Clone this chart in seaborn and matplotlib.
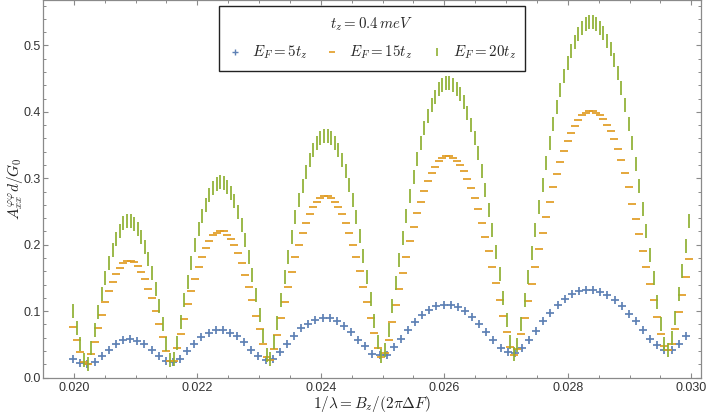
import numpy as np
import pandas as pd
import matplotlib
matplotlib.use('Agg')
import matplotlib.pyplot as plt
from matplotlib.lines import Line2D
import seaborn as sns

# sampling grid (first / last marker position)
x_start = 0.01999
x_end_fine = 0.02997
x_end_coarse = 0.02991

legend_title = r'$t_z = 0.4\,meV$'
labels = [r'$E_F = 5t_z$', r'$E_F = 15t_z$', r'$E_F = 20t_z$']
colors = ['#5E81B5', '#E19C24', '#8FB032']

# E_F = 5 t_z  (blue +)
ef5 = [0.0286, 0.022, 0.0196, 0.0236, 0.033, 0.042, 0.051, 0.056, 0.058, 0.0547,
       0.0497, 0.041, 0.032, 0.0246, 0.023, 0.0286, 0.0396, 0.051, 0.0607, 0.067,
       0.0708, 0.0708, 0.067, 0.0622, 0.0537, 0.042, 0.033, 0.027, 0.0286, 0.038,
       0.050, 0.0622, 0.0738, 0.0808, 0.0873, 0.0899, 0.0889, 0.0848, 0.0783, 0.0688,
       0.0572, 0.0472, 0.0357, 0.0346, 0.0346, 0.0456, 0.0582, 0.0708, 0.0838, 0.0938,
       0.1014, 0.1074, 0.1099, 0.1099, 0.1059, 0.0999, 0.0914, 0.0808, 0.0688, 0.0562,
       0.0447, 0.0387, 0.0372, 0.0447, 0.0562, 0.0698, 0.0848, 0.0974, 0.1089, 0.1185,
       0.126, 0.130, 0.1325, 0.1325, 0.1285, 0.1235, 0.1164, 0.1074, 0.096, 0.0848,
       0.0713, 0.0582, 0.0482, 0.0412, 0.0412, 0.0497, 0.0622]

# E_F = 15 t_z  (orange -)
ef15 = [0.076, 0.057, 0.038, 0.023, 0.021, 0.035, 0.054, 0.075, 0.094, 0.113,
        0.130, 0.144, 0.156, 0.165, 0.172, 0.175, 0.176, 0.174, 0.168, 0.159,
        0.148, 0.134, 0.119, 0.100, 0.081, 0.061, 0.040, 0.025, 0.025, 0.044,
        0.065, 0.088, 0.110, 0.130, 0.149, 0.167, 0.182, 0.195, 0.206, 0.214,
        0.218, 0.221, 0.220, 0.215, 0.209, 0.200, 0.187, 0.172, 0.155, 0.137,
        0.116, 0.093, 0.073, 0.050, 0.031, 0.027, 0.043, 0.064, 0.089, 0.113,
        0.137, 0.159, 0.181, 0.200, 0.217, 0.233, 0.246, 0.257, 0.265, 0.270,
        0.273, 0.273, 0.270, 0.265, 0.257, 0.246, 0.233, 0.218, 0.200, 0.181,
        0.160, 0.137, 0.113, 0.090, 0.067, 0.045, 0.031, 0.037, 0.057, 0.083,
        0.109, 0.134, 0.158, 0.182, 0.206, 0.227, 0.247, 0.265, 0.281, 0.296,
        0.308, 0.317, 0.326, 0.331, 0.333, 0.333, 0.331, 0.326, 0.320, 0.311,
        0.299, 0.286, 0.271, 0.254, 0.233, 0.212, 0.190, 0.167, 0.142, 0.117,
        0.092, 0.068, 0.046, 0.034, 0.043, 0.065, 0.090, 0.115, 0.141, 0.167,
        0.193, 0.218, 0.242, 0.265, 0.287, 0.306, 0.325, 0.341, 0.356, 0.368,
        0.379, 0.388, 0.395, 0.399, 0.401, 0.401, 0.399, 0.395, 0.389, 0.380,
        0.371, 0.359, 0.344, 0.327, 0.308, 0.287, 0.261, 0.239, 0.216, 0.191,
        0.166, 0.141, 0.116, 0.091, 0.066, 0.047, 0.041, 0.051, 0.073, 0.098,
        0.124, 0.151, 0.178]

# E_F = 20 t_z  (green |)
ef20 = [0.100, 0.075, 0.050, 0.026, 0.020, 0.044, 0.071, 0.099, 0.126, 0.150,
        0.172, 0.192, 0.208, 0.221, 0.232, 0.235, 0.235, 0.231, 0.223, 0.212,
        0.197, 0.178, 0.157, 0.133, 0.107, 0.080, 0.051, 0.026, 0.028, 0.052,
        0.084, 0.116, 0.144, 0.172, 0.199, 0.223, 0.243, 0.260, 0.275, 0.285,
        0.291, 0.295, 0.293, 0.287, 0.278, 0.266, 0.249, 0.229, 0.207, 0.182,
        0.154, 0.124, 0.094, 0.062, 0.034, 0.028, 0.053, 0.082, 0.117, 0.151,
        0.182, 0.212, 0.241, 0.267, 0.289, 0.310, 0.328, 0.342, 0.353, 0.360,
        0.364, 0.364, 0.360, 0.353, 0.342, 0.328, 0.311, 0.290, 0.267, 0.241,
        0.213, 0.183, 0.151, 0.118, 0.085, 0.054, 0.032, 0.041, 0.071, 0.107,
        0.143, 0.177, 0.210, 0.243, 0.274, 0.302, 0.329, 0.353, 0.375, 0.394,
        0.410, 0.423, 0.434, 0.441, 0.444, 0.444, 0.441, 0.435, 0.427, 0.415,
        0.399, 0.381, 0.361, 0.338, 0.311, 0.283, 0.253, 0.222, 0.189, 0.156,
        0.119, 0.086, 0.054, 0.035, 0.049, 0.081, 0.116, 0.151, 0.187, 0.222,
        0.257, 0.290, 0.323, 0.353, 0.382, 0.408, 0.433, 0.454, 0.474, 0.491,
        0.505, 0.517, 0.526, 0.532, 0.535, 0.535, 0.532, 0.527, 0.519, 0.507,
        0.494, 0.478, 0.458, 0.436, 0.410, 0.382, 0.353, 0.322, 0.289, 0.254,
        0.220, 0.185, 0.150, 0.114, 0.081, 0.051, 0.041, 0.059, 0.090, 0.126,
        0.161, 0.198, 0.235]

x_coarse = np.linspace(x_start, x_end_coarse, len(ef5))
x_fine = np.linspace(x_start, x_end_fine, len(ef20))

df5 = pd.DataFrame({'x': x_coarse, 'y': ef5})
df15 = pd.DataFrame({'x': x_fine, 'y': ef15})
df20 = pd.DataFrame({'x': x_fine, 'y': ef20})

sns.set_style('ticks')
plt.rcParams['font.family'] = ['Liberation Sans', 'DejaVu Sans']
plt.rcParams['mathtext.fontset'] = 'cm'

fig = plt.figure(figsize=(7.06, 4.15), dpi=100)
ax = fig.add_axes([43 / 706, 37.5 / 415, 658 / 706, 377.5 / 415])

sns.scatterplot(data=df5, x='x', y='y', marker='+', s=30, linewidth=1.25,
                color=colors[0], ax=ax, zorder=3, legend=False)
sns.scatterplot(data=df15, x='x', y='y', marker='_', s=32, linewidth=1.25,
                color=colors[1], ax=ax, zorder=4, legend=False)
sns.scatterplot(data=df20, x='x', y='y', marker='|', s=110, linewidth=1.25,
                color=colors[2], ax=ax, zorder=5, legend=False)

ax.set_xlim(0.019795, 0.030157)
ax.set_ylim(0, 0.5685)
ax.set_xticks([0.020, 0.022, 0.024, 0.026, 0.028, 0.030])
ax.set_xticklabels(['0.020', '0.022', '0.024', '0.026', '0.028', '0.030'])
ax.set_xticks(np.arange(0.0195, 0.0305, 0.0005), minor=True)
ax.set_yticks([0.0, 0.1, 0.2, 0.3, 0.4, 0.5])
ax.set_yticklabels(['0.0', '0.1', '0.2', '0.3', '0.4', '0.5'])
ax.set_yticks(np.arange(0.0, 0.57, 0.02), minor=True)

frame_col = '#8a8a8a'
for sp in ax.spines.values():
    sp.set_visible(True)
    sp.set_color(frame_col)
    sp.set_linewidth(0.9)
ax.tick_params(which='both', direction='in', top=True, right=True,
               color=frame_col, labelcolor='#333333', labelsize=9)
ax.tick_params(which='major', length=3.5, width=0.8)
ax.tick_params(which='minor', length=2.0, width=0.7)
ax.tick_params(axis='y', pad=1.5)
ax.tick_params(axis='x', pad=3.5)

ax.set_xlabel(r'$1/\lambda = B_z/(2\pi\Delta F)$', fontsize=11, color='#222222')
ax.set_ylabel(r'$A^{\varphi\varphi}_{xx}d/G_0$', fontsize=11, color='#222222')
ax.xaxis.set_label_coords(0.5, -0.069)
ax.xaxis.label.set_va('center')
ax.yaxis.set_label_coords(-0.042, 0.5)
ax.yaxis.label.set_va('center')

handles = [
    Line2D([], [], ls='', marker='+', ms=4.0, mew=1.0, color=colors[0]),
    Line2D([], [], ls='', marker='_', ms=4.5, mew=1.2, color=colors[1]),
    Line2D([], [], ls='', marker='|', ms=6.0, mew=1.2, color=colors[2]),
]
leg = ax.legend(handles, labels, title=legend_title, ncol=3, loc='upper center',
                bbox_to_anchor=(0.5, 0.985), borderaxespad=0, frameon=True,
                fancybox=False, edgecolor='#222222', framealpha=1,
                fontsize=10.8, title_fontsize=10.8,
                handlelength=1.0, handletextpad=0.6, columnspacing=1.15,
                borderpad=0.62, labelspacing=0.75)
leg.get_frame().set_linewidth(1.0)

fig.savefig('out.png', dpi=100)
